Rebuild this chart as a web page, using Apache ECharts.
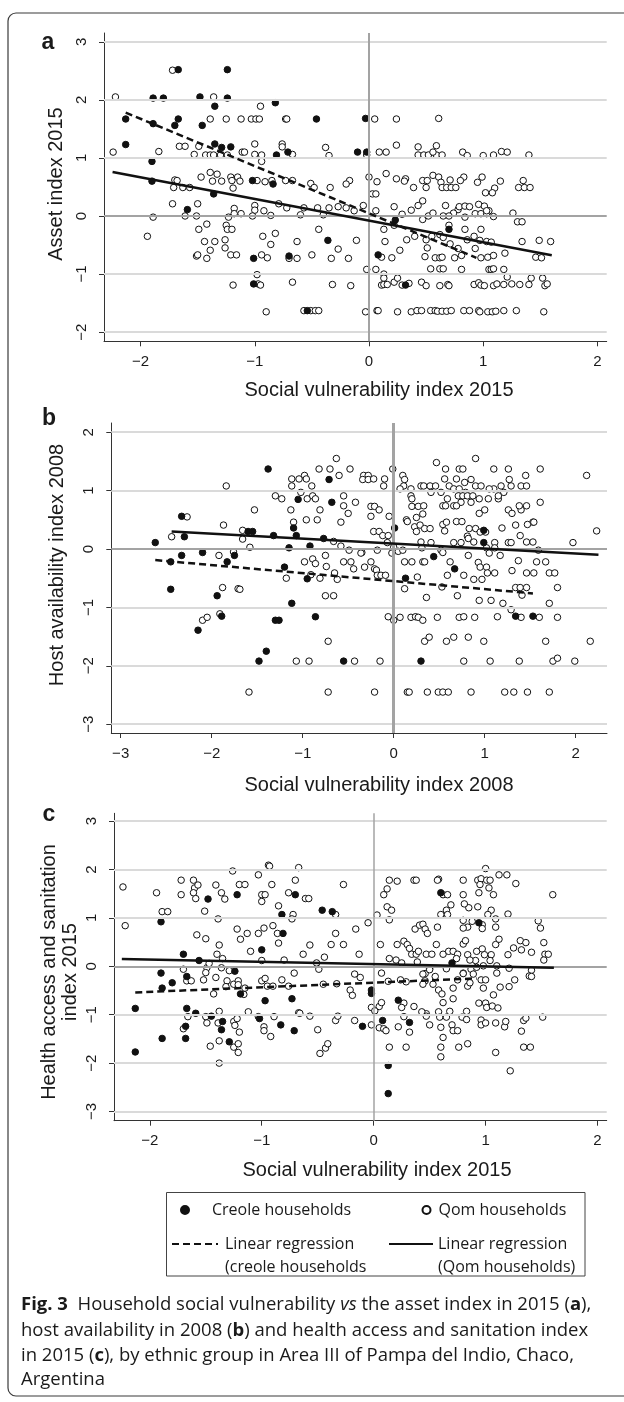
<!DOCTYPE html>
<html>
<head>
<meta charset="utf-8">
<script src="https://cdn.jsdelivr.net/npm/echarts@6.0.0/dist/echarts.min.js"></script>
<style>
  html, body { margin: 0; padding: 0; background: #fff; }
  #chart { width: 624px; height: 1402px; }
</style>
</head>
<body>
<div id="chart"></div>
<script>
// ---- panel a: asset index 2015 vs social vulnerability 2015 ----
const assetCreole = [
  [-1.67,2.52],[-1.24,2.52],[-1.89,2.03],[-1.80,2.03],[-1.48,2.05],[-1.24,2.03],[-1.35,1.89],[-0.82,1.95],
  [-2.13,1.67],[-1.67,1.67],[-0.46,1.67],[-0.03,1.68],[-1.89,1.59],[-1.70,1.56],[-1.46,1.56],[-2.13,1.23],
  [-1.35,1.24],[-1.29,1.18],[-1.21,1.19],[-0.81,1.05],[-0.71,1.10],[-0.10,1.10],[-0.02,1.10],[-1.90,0.94],
  [-1.90,0.60],[-1.02,0.61],[-0.84,0.55],[-1.36,0.38],[-1.59,0.11],[0.23,-0.07],[0.70,-0.23],[-0.36,-0.42],
  [-1.01,-0.73],[-0.70,-0.69],[0.08,-0.67],[-1.01,-1.17],[-0.54,-1.63],[0.32,-1.19]
];
const assetQom = [
  [-2.22,2.05],[-1.36,2.05],[-1.72,2.51],[-0.95,1.89],
  [-1.39,1.67],[-1.25,1.67],[-1.12,1.67],[-1.03,1.67],[-0.99,1.67],[-0.96,1.67],[-0.73,1.67],[-0.72,1.67],[0.05,1.67],[0.24,1.67],[0.61,1.68],
  [-1.66,1.20],[-1.61,1.20],[-1.49,1.20],[-1.00,1.24],[-0.76,1.24],[-0.76,1.19],[-0.38,1.18],[0.24,1.22],[0.43,1.19],[0.59,1.21],
  [-2.24,1.10],[-1.84,1.11],[-1.11,1.10],[-1.09,1.10],[0.09,1.10],[0.15,1.10],[0.82,1.10],[1.16,1.11],[1.21,1.10],
  [-1.53,1.06],[-1.43,1.05],[-1.39,1.05],[-1.36,1.05],[-1.30,1.05],[-1.24,1.05],[-1.00,1.06],[-0.94,1.05],[-0.67,1.06],[-0.35,1.04],
  [-0.02,1.05],[0.43,1.05],[0.48,1.05],[0.52,1.05],[0.59,1.05],[0.64,1.05],[0.86,1.04],[1.00,1.04],[1.09,1.05],[1.40,1.05],[-0.94,0.94],[0.56,1.10],
  [-1.47,0.67],[-1.39,0.75],[-1.33,0.72],[-1.21,0.67],[-1.15,0.67],[0.00,0.67],[0.15,0.73],[0.24,0.64],[0.32,0.64],[0.56,0.70],[0.61,0.67],[0.83,0.67],[0.99,0.67],[1.35,0.61],
  [-1.70,0.62],[-1.68,0.61],[-1.37,0.60],[-1.29,0.60],[-1.20,0.61],[-1.13,0.60],[-0.98,0.61],[-0.91,0.59],[-0.85,0.61],[-0.73,0.61],[-0.67,0.61],[-0.17,0.61],
  [-0.20,0.55],[0.07,0.59],[0.31,0.60],[0.47,0.61],[0.51,0.61],[0.63,0.58],[0.71,0.62],[0.80,0.61],[0.95,0.58],[1.15,0.60],[1.10,0.48],
  [-1.71,0.49],[-1.63,0.49],[-1.57,0.49],[-1.19,0.48],[-0.51,0.56],[-0.48,0.49],[-0.34,0.49],[0.39,0.49],[0.50,0.49],[0.64,0.49],[0.68,0.49],
  [0.72,0.49],[0.76,0.49],[1.31,0.49],[1.36,0.49],[1.41,0.49],[1.02,0.40],[1.08,0.40],
  [0.03,0.38],[0.06,0.38],[0.47,0.26],[0.43,0.18],[0.37,0.10],[0.29,0.03],[0.22,0.16],[-1.72,0.21],[-1.50,0.21],[-1.00,0.18],[-1.00,0.10],
  [-0.79,0.21],[-0.72,0.14],[-0.57,0.14],[-0.45,0.14],[-0.35,0.14],[-0.27,0.16],[-0.20,0.14],[-0.13,0.09],[-0.05,0.18],[0.06,0.09],[0.67,0.18],
  [0.78,0.11],[0.79,0.16],[0.84,0.17],[0.88,0.16],[0.96,0.20],[1.01,0.17],[1.05,0.09],[1.26,0.05],[0.74,0.05],[0.65,0.00],
  [-1.89,-0.02],[-1.61,0.00],[-1.51,0.00],[-1.18,0.13],[-1.18,0.04],[-1.23,-0.02],[-1.12,0.04],[-1.02,0.00],[-0.92,0.09],[-0.86,0.01],[-0.60,0.02],
  [-0.40,0.02],[0.47,-0.06],[0.52,0.00],[0.56,0.05],[0.70,0.00],[0.84,-0.02],[0.93,0.04],[0.98,0.04],[1.03,0.04],[1.09,-0.01],[1.03,0.09],
  [-1.94,-0.35],[-1.42,-0.14],[-1.49,-0.23],[-1.25,-0.16],[-1.24,-0.23],[-1.20,-0.23],[-1.44,-0.44],[-1.35,-0.44],[-1.26,-0.41],[-1.26,-0.55],
  [-1.39,-0.59],[-0.93,-0.35],[-0.86,-0.49],[-0.82,-0.30],[-0.63,-0.44],[-0.44,-0.23],[-0.11,-0.42],[-0.27,-0.57],[0.13,-0.23],[0.14,-0.44],
  [0.22,-0.16],[0.27,-0.59],[0.33,-0.41],[0.40,-0.35],[0.50,-0.41],[0.51,-0.55],[0.55,-0.35],[0.62,-0.32],[0.65,-0.37],[0.71,-0.48],[0.78,-0.56],
  [0.84,-0.23],[0.86,-0.41],[0.92,-0.35],[0.93,-0.56],[0.97,-0.42],[0.98,-0.23],[1.03,-0.44],[1.07,-0.45],[1.34,-0.44],[1.49,-0.42],[1.59,-0.44],
  [1.30,-0.10],[1.34,-0.10],[0.70,-0.16],
  [-1.51,-0.69],[-1.50,-0.67],[-1.42,-0.73],[-1.21,-0.67],[-1.16,-0.67],[-0.94,-0.67],[-0.89,-0.72],[-0.70,-0.73],[-0.63,-0.73],[-0.50,-0.67],
  [-0.33,-0.73],[-0.18,-0.73],[0.11,-0.71],[0.20,-0.72],[0.49,-0.70],[0.58,-0.72],[0.62,-0.72],[0.64,-0.71],[0.75,-0.72],[0.81,-0.68],[0.98,-0.72],
  [1.04,-0.71],[1.09,-0.68],[1.19,-0.64],[1.46,-0.71],[1.51,-0.72],
  [-0.02,-0.92],[0.06,-0.92],[0.13,-1.00],[0.13,-1.07],[0.54,-0.91],[0.62,-0.91],[0.65,-0.91],[0.81,-0.92],[1.05,-0.92],[1.07,-0.92],[1.09,-0.91],
  [1.18,-0.92],[-0.98,-1.01],[1.21,-1.05],[1.42,-1.07],[1.52,-1.07],
  [-1.19,-1.19],[-0.97,-1.17],[-0.95,-1.19],[-0.67,-1.14],[-0.32,-1.18],[-0.16,-1.20],[0.11,-1.19],[0.13,-1.18],[0.16,-1.18],[0.22,-1.14],[0.25,-1.07],
  [0.29,-1.19],[0.35,-1.16],[0.46,-1.14],[0.50,-1.20],[0.62,-1.20],[0.69,-1.18],[0.70,-1.20],[0.92,-1.18],[0.96,-1.15],[0.98,-1.19],[1.01,-1.20],
  [1.09,-1.20],[1.12,-1.17],[1.18,-1.18],[1.25,-1.17],[1.32,-1.18],[1.40,-1.18],[1.54,-1.20],[1.56,-1.17],
  [-0.90,-1.65],[-0.57,-1.63],[-0.51,-1.63],[-0.47,-1.63],[-0.44,-1.63],[-0.03,-1.65],[0.07,-1.63],[0.08,-1.63],[0.25,-1.65],[0.37,-1.65],[0.42,-1.63],
  [0.46,-1.63],[0.54,-1.63],[0.58,-1.63],[0.60,-1.64],[0.64,-1.64],[0.68,-1.64],[0.72,-1.63],[0.83,-1.63],[0.88,-1.63],[0.96,-1.63],[0.97,-1.65],
  [1.04,-1.65],[1.08,-1.65],[1.11,-1.64],[1.18,-1.63],[1.29,-1.63],[1.53,-1.65]
];
const assetFitCreole = [[-2.13, 1.78], [0.94, -0.72]];
const assetFitQom = [[-2.245, 0.758], [1.60, -0.677]];

// ---- panel b: host availability 2008 vs social vulnerability 2008 ----
const hostCreole = [
  [-1.38,1.37],[-0.71,1.19],[-0.68,0.80],[-1.05,0.85],[0.01,0.36],[-2.33,0.56],[-2.30,0.21],[-2.62,0.11],[-2.45,-0.22],[-2.33,-0.11],
  [-2.10,-0.06],[-1.83,-0.22],[-1.75,-0.11],[-1.60,0.30],[-1.55,0.30],[-1.32,0.23],[-1.10,0.36],[-1.07,0.23],[-1.15,0.02],[-0.92,0.05],
  [-0.77,0.18],[-1.20,-0.31],[-0.95,-0.51],[0.13,-0.50],[0.44,-0.13],[0.67,-0.34],[0.99,0.32],[0.99,0.11],[-2.45,-0.69],[-1.94,-0.80],
  [-1.89,-1.15],[-2.15,-1.39],[-1.12,-0.93],[-0.86,-1.16],[-1.30,-1.22],[-1.26,-1.22],[-1.40,-1.75],[-1.48,-1.92],[-0.55,-1.92],[0.30,-1.92],
  [1.34,-1.15],[1.53,-1.15]
];
const hostQom = [
  [-0.63,1.55],[0.90,1.55],[0.47,1.48],[-0.82,1.37],[-0.70,1.37],[-0.48,1.37],[-0.01,1.37],[0.57,1.37],[0.72,1.37],[0.76,1.37],[1.10,1.37],
  [1.26,1.37],[1.61,1.37],[2.12,1.26],
  [-0.98,1.26],[-1.12,1.20],[-1.04,1.20],[-0.96,1.20],[-0.60,1.26],[-0.33,1.26],[-0.28,1.26],[-0.34,1.19],[-0.28,1.19],[-0.22,1.20],[-0.10,1.20],
  [0.10,1.26],[0.12,1.19],[0.56,1.20],[0.69,1.20],[0.78,1.14],[0.85,1.19],[1.27,1.19],[1.45,1.26],
  [-1.84,1.08],[-1.12,1.08],[-0.90,1.08],[-0.11,1.08],[0.11,1.08],[0.30,1.08],[0.33,1.08],[0.40,1.08],[0.46,1.08],[0.61,1.08],[0.66,1.03],
  [0.72,1.03],[0.90,1.08],[0.96,1.08],[1.10,1.03],[1.18,1.08],[1.29,1.08],[1.40,1.08],[1.46,1.08],[0.07,1.03],[0.19,1.03],[-1.02,0.97],
  [0.41,0.97],[0.52,0.97],[0.79,0.97],[1.05,1.03],[1.21,0.97],
  [-1.30,0.91],[-1.23,0.86],[-0.95,0.86],[-0.89,0.91],[-0.86,0.86],[-0.55,0.91],[-0.55,0.74],[-0.42,0.80],[0.19,0.91],[0.20,0.86],[0.59,0.86],
  [0.71,0.91],[0.76,0.91],[0.81,0.91],[0.87,0.91],[0.94,0.86],[1.04,0.86],[1.15,0.86],[1.15,0.91],[0.74,0.80],[0.85,0.80],[1.61,0.80],
  [-1.53,0.67],[-1.13,0.67],[-0.81,0.67],[-0.50,0.61],[-0.25,0.73],[-0.21,0.73],[-0.25,0.56],[-0.16,0.67],[-0.05,0.56],[0.14,0.50],[0.20,0.73],
  [0.27,0.73],[0.33,0.74],[0.25,0.54],[0.32,0.60],[0.54,0.74],[0.57,0.74],[0.66,0.74],[0.69,0.74],[1.00,0.67],[1.26,0.67],[1.30,0.61],
  [1.40,0.67],[0.94,0.61],[1.38,0.74],[1.46,0.74],[1.53,0.46],
  [-0.96,0.50],[-0.84,0.50],[-0.58,0.46],[-1.87,0.41],[-1.66,0.32],[-1.66,0.17],[-1.58,0.03],[-2.27,0.55],[-2.44,0.21],[-1.10,0.46],[-0.22,0.30],
  [-0.16,0.30],[-0.12,0.23],[-0.06,0.23],[-0.07,0.11],[0.15,0.47],[0.23,0.38],[0.29,0.41],[0.34,0.35],[0.40,0.35],[0.25,0.30],[0.30,0.12],
  [0.41,0.11],[0.54,0.42],[0.58,0.46],[0.56,0.31],[0.66,0.11],[0.74,0.11],[0.69,0.47],[0.75,0.47],[0.83,0.35],[0.90,0.35],[0.81,0.22],
  [0.82,0.18],[0.88,0.12],[0.95,0.29],[1.01,0.29],[1.11,0.11],[1.11,0.02],[1.19,0.36],[1.26,0.11],[1.29,0.11],[1.34,0.41],[1.39,0.23],
  [1.46,0.12],[1.47,0.42],[1.54,0.46],[1.53,0.12],[1.97,0.11],[2.23,0.31],
  [-0.66,0.13],[-0.58,0.05],[-0.49,-0.02],[-0.35,-0.06],[-0.18,-0.02],[-0.02,-0.07],[0.00,0.03],[0.05,-0.04],[0.10,-0.02],[0.31,0.02],
  [0.52,-0.02],[0.54,-0.06],[1.02,0.02],[1.05,-0.07],[1.59,-0.02],[-1.92,-0.11],[-1.76,-0.05],[-0.75,-0.11],
  [-0.98,-0.22],[-0.89,-0.17],[-0.86,-0.25],[-0.74,-0.30],[-0.55,-0.22],[-0.47,-0.22],[-0.44,-0.34],[-0.36,-0.07],[-0.25,-0.22],[-0.21,-0.34],
  [-0.32,-0.31],[-0.19,-0.36],[-0.18,-0.45],[-0.14,-0.45],[-0.09,-0.45],[-0.65,-0.41],[-0.62,-0.52],[-0.81,-0.50],[-0.91,-0.44],[-1.18,-0.50],
  [-1.88,-0.66],[-1.71,-0.68],[-1.69,-0.69],[-0.75,-0.80],[-0.66,-0.80],[0.12,-0.22],[0.20,-0.22],[0.32,-0.22],[0.34,-0.22],[0.26,-0.48],
  [0.12,-0.68],[0.36,-0.83],[0.53,-0.65],[0.59,-0.45],[0.62,-0.22],[0.77,-0.45],[0.82,-0.11],[0.88,-0.52],[0.97,-0.52],[0.93,-0.23],[0.95,-0.31],
  [1.02,-0.31],[1.03,-0.41],[1.11,-0.41],[1.17,-0.11],[1.30,-0.37],[1.37,-0.20],[1.46,-0.41],[1.54,-0.41],[1.57,-0.22],[1.67,-0.22],[1.71,-0.41],
  [1.77,-0.41],[1.80,-0.66],[1.34,-0.66],[1.39,-0.66],[1.46,-0.66],[1.41,-0.79],[0.70,-0.80],[0.94,-0.88],[1.07,-0.88],[1.20,-0.93],[1.29,-1.04],
  [1.71,-0.93],
  [-2.10,-1.22],[-2.05,-1.17],[-1.91,-1.11],[-0.06,-1.16],[0.00,-1.22],[0.07,-1.17],[0.19,-1.17],[0.24,-1.16],[0.27,-1.17],[0.32,-1.22],
  [0.48,-1.17],[0.72,-1.17],[0.77,-1.16],[0.89,-1.17],[1.14,-1.16],[1.40,-1.17],[1.60,-1.17],[1.80,-1.17],
  [-0.72,-1.58],[0.34,-1.58],[0.39,-1.51],[0.58,-1.58],[0.66,-1.51],[0.82,-1.51],[0.99,-1.58],[1.67,-1.58],[2.16,-1.58],
  [-1.07,-1.92],[-0.93,-1.92],[-0.43,-1.92],[-0.15,-1.92],[0.77,-1.92],[1.06,-1.92],[1.38,-1.92],[1.75,-1.92],[1.80,-1.87],[1.99,-1.92],
  [-1.59,-2.45],[-0.72,-2.45],[-0.21,-2.45],[0.15,-2.45],[0.17,-2.45],[0.37,-2.45],[0.49,-2.45],[0.54,-2.45],[0.60,-2.45],[0.85,-2.45],
  [1.22,-2.45],[1.32,-2.45],[1.47,-2.45],[1.71,-2.45]
];
const hostFitCreole = [[-2.62, -0.19], [1.53, -0.76]];
const hostFitQom = [[-2.44, 0.30], [2.25, -0.10]];

// ---- panel c: health access and sanitation 2015 vs social vulnerability 2015 ----
const healthCreole = [
  [-1.90,0.92],[-1.48,1.39],[-1.22,1.48],[-0.70,1.48],[-0.46,1.16],[-0.37,1.13],[-0.82,1.07],[-0.81,0.68],[-1.00,0.34],[-1.70,0.25],
  [-1.56,0.12],[-1.90,-0.14],[-1.67,-0.21],[-1.80,-0.34],[-1.89,-0.45],[-1.24,-0.10],[-1.19,-0.57],[-0.97,-0.71],[-0.73,-0.67],[-2.13,-0.87],
  [-1.67,-0.87],[-1.59,-0.97],[-1.68,-1.24],[-1.89,-1.49],[-1.68,-1.49],[-2.13,-1.77],[-1.45,-1.03],[-1.35,-1.14],[-1.36,-1.31],[-1.29,-1.56],
  [-1.02,-1.08],[-0.83,-1.21],[-0.71,-1.33],[-0.10,-1.24],[-0.02,-0.49],[-0.02,-0.56],[0.08,-1.12],[0.22,-0.70],[0.32,-1.16],[0.13,-2.05],
  [0.13,-2.63],[0.60,1.52],[0.94,0.90],[0.70,0.07]
];
const healthQom = [
  [-0.94,2.09],[-0.93,2.07],[-1.26,1.97],[-0.67,2.04],[1.00,2.02],[-1.03,1.89],[1.12,1.89],[1.19,1.89],[-2.24,1.64],[-1.94,1.52],[-1.72,1.78],
  [-1.61,1.78],[-1.60,1.62],[-1.57,1.68],[-1.72,1.48],[-1.61,1.52],[-1.59,1.40],[-1.41,1.68],[-1.36,1.52],[-1.33,1.39],[-1.20,1.69],[-1.15,1.69],
  [-1.00,1.48],[-0.97,1.48],[-1.00,1.34],[-0.91,1.69],[-0.76,1.52],[-0.70,1.78],[-0.61,1.40],[-0.58,1.40],[-0.27,1.69],[0.14,1.78],[0.21,1.76],
  [0.12,1.60],[0.09,1.48],[0.36,1.78],[0.38,1.78],[0.58,1.80],[0.57,1.78],[0.62,1.48],[0.66,1.48],[0.80,1.78],[0.93,1.78],[0.96,1.81],[1.01,1.78],
  [1.04,1.78],[0.95,1.69],[1.03,1.62],[0.94,1.52],[1.07,1.48],[1.27,1.71],[0.80,1.48],[1.60,1.48],
  [-1.89,1.13],[-1.84,1.13],[-1.51,1.14],[-1.39,0.98],[-0.85,1.25],[-0.72,1.07],[-0.73,0.98],[-0.34,1.07],[-0.05,0.90],[0.03,1.06],[0.12,1.23],
  [0.16,1.16],[0.14,0.96],[0.69,1.27],[0.65,1.16],[0.60,1.07],[0.66,1.07],[0.85,1.21],[0.81,1.29],[0.93,1.23],[1.05,1.16],[1.02,1.07],[1.09,0.98],
  [1.20,1.08],[0.80,0.95],[0.88,0.93],[0.97,0.86],[1.09,0.81],[0.97,0.78],[0.84,0.81],[0.80,0.79],[1.47,0.94],[1.49,0.79],
  [-2.22,0.84],[-1.58,0.65],[-1.50,0.57],[-1.22,0.77],[-1.19,0.56],[-1.13,0.68],[-1.03,0.68],[-0.98,0.79],[-0.90,0.84],[-0.86,0.68],[-0.85,0.48],
  [-0.57,0.44],[-0.63,0.25],[-0.38,0.45],[-0.34,0.68],[-0.27,0.45],[-0.16,0.77],[-0.13,0.25],[-0.44,0.19],[-1.10,0.31],[-1.38,0.44],[-1.40,0.25],
  [0.37,0.77],[0.41,0.85],[0.44,0.87],[0.46,0.77],[0.48,0.68],[0.57,0.81],[0.56,0.45],[0.06,0.45],[0.21,0.45],[0.27,0.52],[0.30,0.45],[0.32,0.37],
  [0.34,0.25],[0.38,0.25],[0.47,0.25],[0.52,0.25],[0.40,0.31],[0.62,0.25],[0.67,0.31],[0.71,0.31],[0.75,0.25],[0.80,0.46],[0.82,0.53],[0.84,0.24],
  [0.92,0.31],[0.97,0.36],[0.99,0.24],[1.05,0.24],[1.09,0.45],[1.12,0.56],[1.20,0.24],[1.25,0.38],[1.31,0.53],[1.36,0.49],[1.32,0.34],[1.41,0.29],
  [1.52,0.49],[1.53,0.25],[1.56,0.25],[1.52,0.13],
  [-1.70,-0.06],[-1.49,-0.03],[-1.47,0.06],[-1.50,-0.13],[-1.41,-0.23],[-1.36,-0.03],[-1.35,0.16],[-1.29,-0.09],[-0.80,0.13],[-0.71,-0.14],
  [-0.49,-0.06],[-0.51,0.07],[-1.00,0.12],[0.07,-0.14],[0.14,0.16],[0.20,0.13],[0.25,0.07],[0.39,0.09],[0.50,-0.05],[0.46,-0.15],[0.65,-0.05],
  [0.80,-0.14],[0.87,-0.06],[0.89,-0.16],[0.92,-0.02],[0.98,0.01],[1.04,0.12],[1.10,0.01],[1.21,-0.04],[1.41,-0.08],[1.39,-0.20],[0.91,0.12],
  [0.86,0.13],[0.74,0.16],
  [-1.67,-0.30],[-1.63,-0.30],[-1.52,-0.28],[-1.43,-0.57],[-1.31,-0.30],[-1.32,-0.42],[-1.25,-0.37],[-1.21,-0.30],[-1.21,-0.38],[-1.16,-0.58],
  [-1.15,-0.45],[-1.00,-0.30],[-0.97,-0.25],[-0.95,-0.41],[-0.90,-0.41],[-0.82,-0.28],[-0.76,-0.41],[-0.67,-0.96],[-0.45,-0.37],[-0.33,-0.36],
  [-0.21,-0.49],[-0.19,-0.60],[-0.17,-0.16],[-0.12,-0.23],[0.13,-0.31],[0.24,-0.28],[0.29,-0.32],[0.44,-0.16],[0.46,-0.30],[0.50,-0.07],
  [0.55,-0.21],[0.44,-0.37],[0.53,-0.37],[0.58,-0.49],[0.61,-0.57],[0.62,-0.75],[0.71,-0.45],[0.71,-0.67],[0.75,-0.28],[0.80,-0.15],[0.84,-0.41],
  [0.86,-0.34],[0.96,-0.28],[0.98,-0.45],[1.00,-0.28],[1.07,-0.59],[1.10,-0.14],[1.13,-0.43],[1.21,-0.42],[1.26,-0.28],[1.41,-0.21],[0.94,-0.76],
  [1.00,-0.76],[1.01,-0.85],[1.06,-0.82],[1.11,-0.86],[0.36,-0.83],[0.47,-0.98],[0.27,-0.76],[0.25,-0.85],[0.05,-0.83],[0.07,-0.75],
  [-1.66,-1.04],[-1.70,-1.29],[-1.50,-1.04],[-1.49,-1.17],[-1.39,-1.17],[-1.38,-0.93],[-1.46,-1.65],[-1.38,-1.54],[-1.38,-2.00],[-1.25,-1.14],
  [-1.24,-1.22],[-1.22,-1.08],[-1.20,-1.36],[-1.25,-1.67],[-1.21,-1.78],[-1.21,-1.60],[-1.12,-0.94],[-1.03,-1.04],[-0.98,-1.25],[-0.98,-1.33],
  [-0.92,-1.45],[-0.89,-1.04],[-0.66,-0.97],[-0.57,-1.03],[-0.50,-1.31],[-0.48,-1.80],[-0.43,-1.69],[-0.41,-1.60],[-0.34,-1.12],[-0.32,-1.03],
  [-0.17,-1.12],[-0.02,-0.85],[0.01,-0.92],[-0.02,-1.21],[0.05,-1.27],[0.09,-1.29],[0.11,-1.33],[0.14,-1.67],[0.22,-1.25],[0.27,-1.04],[0.29,-1.67],
  [0.32,-1.36],[0.43,-0.94],[0.47,-1.03],[0.50,-1.21],[0.58,-0.94],[0.59,-1.05],[0.60,-1.26],[0.60,-1.67],[0.60,-1.87],[0.62,-1.47],[0.65,-1.05],
  [0.68,-0.93],[0.70,-1.21],[0.71,-1.33],[0.75,-1.33],[0.76,-1.67],[0.79,-1.05],[0.83,-0.93],[0.83,-1.10],[0.84,-1.60],[0.96,-1.11],[0.96,-1.21],
  [1.00,-1.17],[1.09,-1.17],[1.09,-1.78],[1.17,-1.25],[1.18,-1.14],[1.22,-2.16],[1.32,-1.34],[1.34,-1.12],[1.36,-1.07],[1.34,-1.67],[1.40,-1.67],
  [1.51,-1.05]
];
const healthFitCreole = [[-2.13, -0.54], [0.92, -0.25]];
const healthFitQom = [[-2.25, 0.15], [1.61, -0.03]];

// tick values
const xTicksA = [-2, -1, 0, 1, 2];
const yTicksA = [-2, -1, 0, 1, 2, 3];
const xTicksB = [-3, -2, -1, 0, 1, 2];
const yTicksB = [-3, -2, -1, 0, 1, 2];
const xTicksC = [-2, -1, 0, 1, 2];
const yTicksC = [-3, -2, -1, 0, 1, 2, 3];

const CREOLE = 'Creole households';
const QOM = 'Qom households';
const FIT_CREOLE = 'Linear regression\n(creole households';
const FIT_QOM = 'Linear regression\n(Qom households)';

const AXIS_FONT = 'Liberation Sans, Arial, Helvetica, sans-serif';
const TEXT_FONT = 'Open Sans, Noto Sans, sans-serif';

const panels = [
  { grid: { left: 104, top: 33, width: 502.7, height: 308.3 }, xr: [-2.32, 2.081], yr: [-2.158, 3.151],
    xt: xTicksA, yt: yTicksA, creole: assetCreole, qom: assetQom, fitC: assetFitCreole, fitQ: assetFitQom, zeroX: 2 },
  { grid: { left: 111.3, top: 423, width: 495.7, height: 310 }, xr: [-3.103, 2.344], yr: [-3.151, 2.158],
    xt: xTicksB, yt: yTicksB, creole: hostCreole, qom: hostQom, fitC: hostFitCreole, fitQ: hostFitQom, zeroX: 3 },
  { grid: { left: 114, top: 813.3, width: 492.7, height: 307.4 }, xr: [-2.32, 2.082], yr: [-3.19, 3.162],
    xt: xTicksC, yt: yTicksC, creole: healthCreole, qom: healthQom, fitC: healthFitCreole, fitQ: healthFitQom, zeroX: 1.5 }
];

const minus = v => String(v).replace('-', '\u2212');

const grids = [], xAxes = [], yAxes = [], series = [];
panels.forEach((p, i) => {
  grids.push(p.grid);
  const axisCommon = {
    type: 'value', gridIndex: i,
    axisLine: { show: true, onZero: false, lineStyle: { color: '#333', width: 1 } },
    axisTick: { show: true, length: 5, lineStyle: { color: '#333', width: 1 } },
    splitLine: { show: false },
    axisLabel: { color: '#1a1a1a', fontSize: 15, fontFamily: AXIS_FONT, formatter: minus }
  };
  xAxes.push(Object.assign({}, axisCommon, {
    min: p.xr[0], max: p.xr[1],
    axisTick: Object.assign({}, axisCommon.axisTick, { customValues: p.xt }),
    axisLabel: Object.assign({}, axisCommon.axisLabel, { customValues: p.xt, margin: 13 })
  }));
  yAxes.push(Object.assign({}, axisCommon, {
    min: p.yr[0], max: p.yr[1],
    axisTick: Object.assign({}, axisCommon.axisTick, { customValues: p.yt }),
    axisLabel: Object.assign({}, axisCommon.axisLabel, { customValues: p.yt, rotate: 90, margin: 15 })
  }));

  const gridLines = p.yt.map(v => ({
    yAxis: v,
    lineStyle: v === 0 ? { color: '#a3a3a3', width: 2, type: 'solid' } : { color: '#dadada', width: 2, type: 'solid' }
  }));
  gridLines.push({ xAxis: 0, lineStyle: { color: '#a3a3a3', width: p.zeroX, type: 'solid' } });

  series.push({
    type: 'scatter', name: 'grid' + i, xAxisIndex: i, yAxisIndex: i, data: [], z: 1, silent: true,
    markLine: { symbol: ['none', 'none'], silent: true, animation: false, label: { show: false }, data: gridLines }
  });
  series.push({
    type: 'scatter', name: QOM, xAxisIndex: i, yAxisIndex: i, data: p.qom, z: 3,
    symbol: 'circle', symbolSize: 6.5,
    itemStyle: { color: '#fff', borderColor: '#111', borderWidth: 1, opacity: 1 }
  });
  series.push({
    type: 'scatter', name: CREOLE, xAxisIndex: i, yAxisIndex: i, data: p.creole, z: 4,
    symbol: 'circle', symbolSize: 6.5,
    itemStyle: { color: '#111', borderColor: '#111', borderWidth: 1, opacity: 1 }
  });
  series.push({
    type: 'line', name: FIT_CREOLE, xAxisIndex: i, yAxisIndex: i, data: p.fitC, z: 5,
    symbol: 'none', lineStyle: { color: '#111', width: 2.5, type: [7, 4] }, itemStyle: { color: '#111' }
  });
  series.push({
    type: 'line', name: FIT_QOM, xAxisIndex: i, yAxisIndex: i, data: p.fitQ, z: 5,
    symbol: 'none', lineStyle: { color: '#111', width: 2.5 }, itemStyle: { color: '#111' }
  });
});

const legendText = { color: '#1a1a1a', fontSize: 16, fontFamily: TEXT_FONT };
// a leading empty line keeps the icon level with the first text line
const twoLine = name => '\n' + name;
const legends = [
  { data: [CREOLE], left: 180, top: 1202, itemWidth: 8, itemHeight: 8,
    textStyle: Object.assign({}, legendText, { padding: [0, 0, 0, 18] }) },
  { data: [QOM], left: 421.5, top: 1202, itemWidth: 8, itemHeight: 8,
    textStyle: Object.assign({}, legendText, { padding: [0, 0, 0, 3] }) },
  { data: [FIT_CREOLE], left: 171, top: 1209.5, itemWidth: 46, itemHeight: 10, formatter: twoLine,
    itemStyle: { opacity: 0 },
    textStyle: Object.assign({}, legendText, { lineHeight: 23, padding: [0, 0, 0, 2] }) },
  { data: [FIT_QOM], left: 388, top: 1209.5, itemWidth: 44, itemHeight: 10, formatter: twoLine,
    itemStyle: { opacity: 0 },
    textStyle: Object.assign({}, legendText, { lineHeight: 23 }) }
].map(l => Object.assign({ selectedMode: false, padding: 0, orient: 'horizontal' }, l));

const titleStyle = { fill: '#1a1a1a', fontSize: 20, fontFamily: AXIS_FONT, align: 'center', verticalAlign: 'middle' };
const CAP_SIZE = 18.5;
const rich = {
  n: { fontSize: CAP_SIZE, fontFamily: TEXT_FONT, fill: '#1a1a1a' },
  b: { fontWeight: 'bold', fontSize: CAP_SIZE, fontFamily: TEXT_FONT, fill: '#1a1a1a' },
  i: { fontStyle: 'italic', fontSize: CAP_SIZE, fontFamily: TEXT_FONT, fill: '#1a1a1a' }
};
const capLine = (txt, y) => ({
  type: 'text', x: 21, y: y,
  style: { text: txt, fontSize: CAP_SIZE, fontFamily: TEXT_FONT, fill: '#1a1a1a', verticalAlign: 'middle', rich: rich }
});

const graphic = [
  { type: 'rect', shape: { x: 8, y: 13, width: 700, height: 1383, r: 8 },
    style: { fill: 'none', stroke: '#3a3a3a', lineWidth: 1.2 }, z: -1 },
  { type: 'text', x: 48, y: 43, style: Object.assign({}, titleStyle, { text: 'a', fontWeight: 'bold', fontSize: 23 }) },
  { type: 'text', x: 49, y: 419, style: Object.assign({}, titleStyle, { text: 'b', fontWeight: 'bold', fontSize: 23 }) },
  { type: 'text', x: 49, y: 815, style: Object.assign({}, titleStyle, { text: 'c', fontWeight: 'bold', fontSize: 23 }) },
  { type: 'text', x: 379, y: 390, style: Object.assign({}, titleStyle, { text: 'Social vulnerability index 2015' }) },
  { type: 'text', x: 379, y: 785, style: Object.assign({}, titleStyle, { text: 'Social vulnerability index 2008' }) },
  { type: 'text', x: 377, y: 1170, style: Object.assign({}, titleStyle, { text: 'Social vulnerability index 2015' }) },
  { type: 'text', x: 56, y: 184, rotation: Math.PI / 2, style: Object.assign({}, titleStyle, { text: 'Asset index 2015' }) },
  { type: 'text', x: 57, y: 565, rotation: Math.PI / 2, style: Object.assign({}, titleStyle, { text: 'Host availability index 2008' }) },
  { type: 'text', x: 60, y: 972, rotation: Math.PI / 2,
    style: Object.assign({}, titleStyle, { text: 'Health access and sanitation\nindex 2015', lineHeight: 21 }) },
  { type: 'rect', shape: { x: 166.5, y: 1192.5, width: 418.5, height: 83.5 },
    style: { fill: 'none', stroke: '#444', lineWidth: 1 } },
  capLine('{b|Fig. 3}{n|  Household social vulnerability }{i|vs}{n| the asset index in 2015 (}{b|a}{n|),}', 1305),
  capLine('{n|host availability in 2008 (}{b|b}{n|) and health access and sanitation index}', 1331),
  capLine('{n|in 2015 (}{b|c}{n|), by ethnic group in Area III of Pampa del Indio, Chaco,}', 1356),
  capLine('{n|Argentina}', 1380)
];

const chart = echarts.init(document.getElementById('chart'), null, { renderer: 'canvas' });
chart.setOption({
  animation: false,
  backgroundColor: '#fff',
  grid: grids,
  xAxis: xAxes,
  yAxis: yAxes,
  legend: legends,
  series: series,
  graphic: graphic
});
</script>
</body>
</html>
